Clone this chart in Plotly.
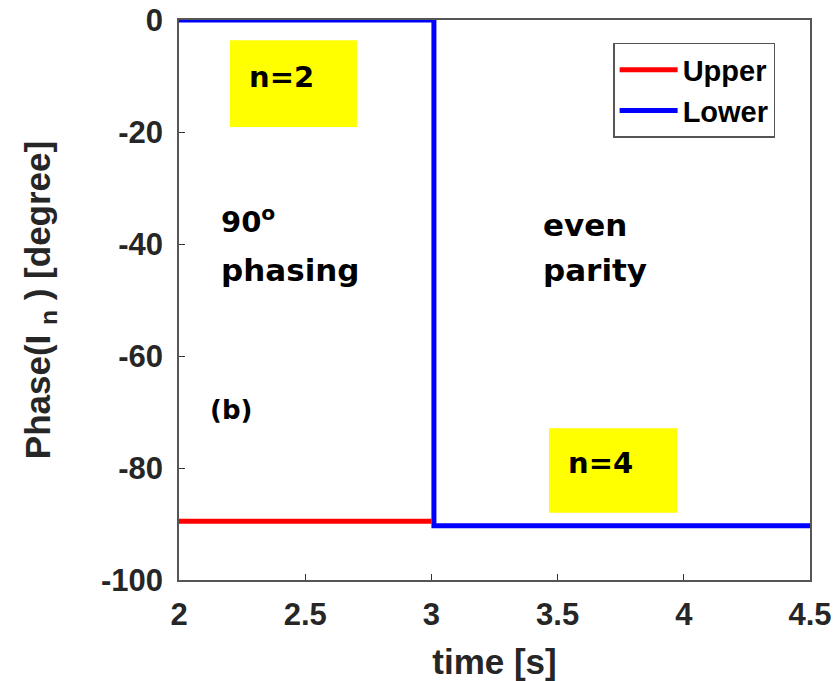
import plotly.graph_objects as go

# Coil current phase vs time for the upper and lower coil rows
upper_t = [2.0, 3.0]
upper_phase = [-89.5, -89.5]
lower_t = [2.0, 3.01, 3.01, 4.5]
lower_phase = [0.0, 0.0, -90.3, -90.3]

x_ticks = [2, 2.5, 3, 3.5, 4, 4.5]
y_ticks = [0, -20, -40, -60, -80, -100]

AXFONT = "Liberation Sans"
NOTEFONT = "DejaVu Sans"

fig = go.Figure()
fig.add_trace(go.Scatter(x=upper_t, y=upper_phase, mode="lines", name="Upper",
                         line=dict(color="#ff0000", width=5)))
fig.add_trace(go.Scatter(x=lower_t, y=lower_phase, mode="lines", name="Lower",
                         line=dict(color="#0000ff", width=5)))

# Yellow highlight boxes for the toroidal mode numbers
fig.add_shape(type="rect", x0=2.202, x1=2.705, y0=-19.1, y1=-3.6,
              fillcolor="#ffff00", line=dict(width=0), layer="below")
fig.add_shape(type="rect", x0=3.466, x1=3.973, y0=-88.0, y1=-72.9,
              fillcolor="#ffff00", line=dict(width=0), layer="below")

txt = dict(family=NOTEFONT, size=29, color="black")
big = dict(family=NOTEFONT, size=31, color="black")
fig.add_annotation(x=2.408, y=-10.2, text="<b>n=2</b>", showarrow=False, font=txt)
fig.add_annotation(x=3.668, y=-79.1, text="<b>n=4</b>", showarrow=False, font=txt)
fig.add_annotation(x=2.16, y=-35.7, text="<b>90<sup>o</sup></b>", showarrow=False,
                   font=txt, xanchor="left")
fig.add_annotation(x=2.16, y=-44.6, text="<b>phasing</b>", showarrow=False,
                   font=big, xanchor="left")
fig.add_annotation(x=3.435, y=-36.6, text="<b>even</b>", showarrow=False,
                   font=big, xanchor="left")
fig.add_annotation(x=3.435, y=-44.6, text="<b>parity</b>", showarrow=False,
                   font=big, xanchor="left")
fig.add_annotation(x=2.115, y=-69.6, text="<b>(b)</b>", showarrow=False,
                   font=dict(family=NOTEFONT, size=26, color="black"), xanchor="left")

axis_common = dict(showgrid=False, zeroline=False, mirror=True, showline=True,
                   linecolor="#555555", linewidth=1.5, ticks="inside",
                   ticklen=6, tickcolor="#333333", automargin=False,
                   tickfont=dict(family=AXFONT, size=31, color="#262626"))

fig.update_xaxes(range=[2, 4.5], tickvals=x_ticks,
                 ticktext=[f"<b>{v:g}</b>" for v in x_ticks],
                 ticklabelstandoff=6,
                 title=dict(text="<b>time [s]</b>", standoff=20,
                            font=dict(family=AXFONT, size=35, color="#262626")),
                 **axis_common)
fig.update_yaxes(range=[-100, 0], tickvals=y_ticks,
                 ticktext=[f"<b>{v:g}</b>" for v in y_ticks],
                 ticklabelstandoff=8,
                 title=dict(text="<b>Phase(I <sub>n</sub> ) [degree]</b>", standoff=40,
                            font=dict(family=AXFONT, size=35, color="#262626")),
                 **axis_common)

fig.update_layout(
    width=836, height=681,
    margin=dict(l=179, r=26, t=20, b=101, autoexpand=False),
    plot_bgcolor="white", paper_bgcolor="white",
    showlegend=True,
    legend=dict(x=0.688, y=0.959, xanchor="left", yanchor="top",
                bgcolor="white", bordercolor="#555555", borderwidth=1.5,
                font=dict(family=AXFONT, size=29, color="black", weight="bold"),
                itemwidth=58, tracegroupgap=0),
)

fig.write_html("out.html")
